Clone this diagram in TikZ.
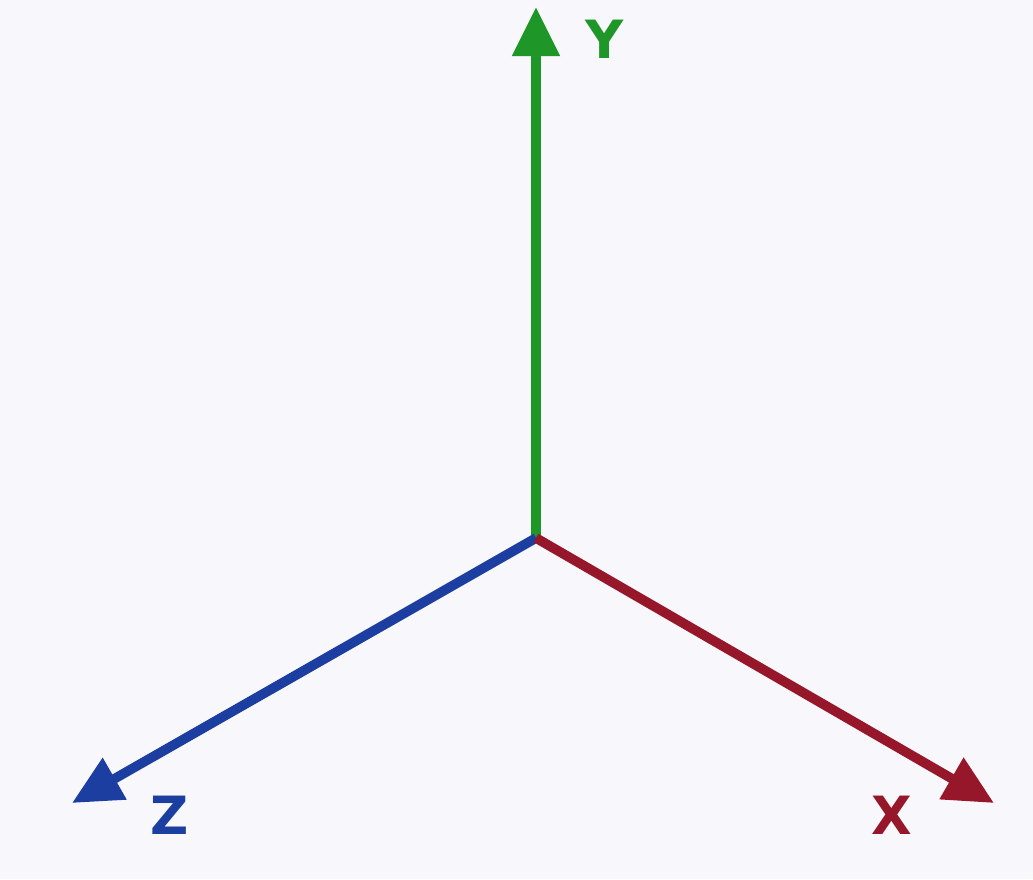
\documentclass[tikz,border=0pt]{standalone}
\usepackage{fontspec}
\setsansfont{DejaVu Sans}
\usepackage{tikz}
\usetikzlibrary{arrows.meta,positioning}
\definecolor{axisgreen}{RGB}{30,150,40}
\definecolor{axisblue}{RGB}{28,62,160}
\definecolor{axisred}{RGB}{150,22,42}
\definecolor{paper}{RGB}{248,248,252}
\tikzset{
  axis/.style={line width=5.5pt,-{Triangle[length=28pt,width=26pt]}},
  axislabel/.style={font=\fontsize{30}{30}\selectfont\sffamily\bfseries}
}

\begin{document}
\begin{tikzpicture}[x=0.02cm,y=-0.02cm]
      \fill[paper] (0,0) rectangle (1033,879);
      \useasboundingbox (0,0) rectangle (1033,879);
      \coordinate (O) at (536,538);
      \coordinate (Ytip) at (536,7);
      \coordinate (Ztip) at (72,803);
      \coordinate (Xtip) at (994,803);
      \draw[axis,axisgreen] (O) -- (Ytip);
      \draw[axis,axisblue] (O) -- (Ztip);
      \draw[axis,axisred] (O) -- (Xtip);
      \node[axislabel,text=axisgreen] (ylabel) at (605,39) {Y};
      \node[axislabel,text=axisblue] (zlabel) at (170,815) {Z};
      \node[axislabel,text=axisred] (xlabel) at (892,815) {X};
    \end{tikzpicture}
\end{document}
